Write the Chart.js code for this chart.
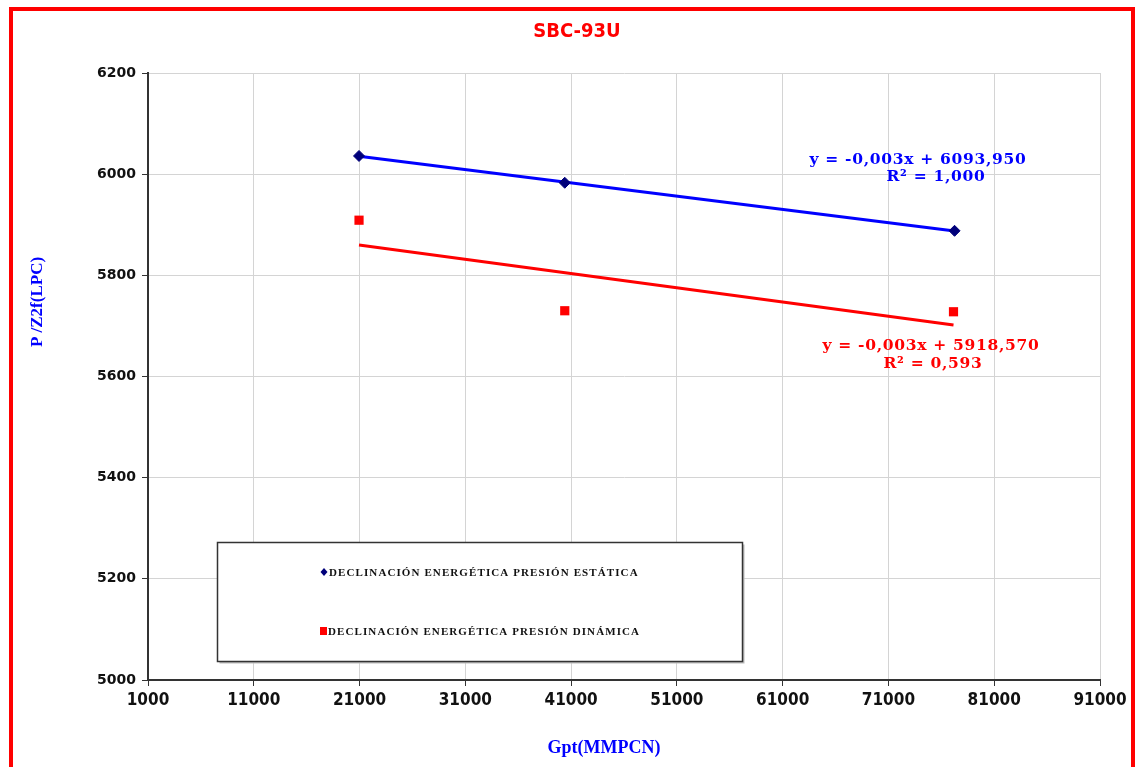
<!DOCTYPE html>
<html>
<head>
  <meta charset="UTF-8">
  <title>SBC-93U</title>
  <style>
    body { margin: 0; background: #fff; }
    #wrap { position: relative; width: 1137px; height: 767px; overflow: hidden; }
    #marco { position: absolute; left: 9px; top: 7px; width: 1118px; height: 800px; border: 4px solid #ff0000; }
    #grafico { position: absolute; left: 0; top: 0; }
  </style>
</head>
<body>
<div id="wrap">
  <div id="marco"></div>
  <canvas id="grafico" width="1137" height="767"></canvas>
</div>
<script src="https://cdn.jsdelivr.net/npm/chart.js"></script>
<script>
// Gp acumulado (MMPCN) y P/Z (LPC) por serie
const gpEstatica = [20950, 40400, 77250];
const pzEstatica = [6036, 5983, 5888];
const gpDinamica = [20950, 40400, 77150];
const pzDinamica = [5909, 5730, 5728];

const xTicks = [1000, 11000, 21000, 31000, 41000, 51000, 61000, 71000, 81000, 91000];
const yTicks = [5000, 5200, 5400, 5600, 5800, 6000, 6200];

const etiquetas = ['DECLINACIÓN ENERGÉTICA PRESIÓN ESTÁTICA', 'DECLINACIÓN ENERGÉTICA PRESIÓN DINÁMICA'];
const ecEstatica = ['y = -0,003x + 6093,950', 'R² = 1,000'];
const ecDinamica = ['y = -0,003x + 5918,570', 'R² = 0,593'];

const AZUL = '#0000ff', AZUL_OSC = '#00007a', ROJO = '#ff0000';
const NARROW = "'DejaVu Sans Condensed', 'DejaVu Sans', sans-serif";
const SERIF = "'Liberation Serif', serif";

function puntos(xs, ys) {
  return xs.map((x, i) => ({x: x, y: ys[i]}));
}

// recta de minimos cuadrados, dibujada entre el primer y el ultimo punto
function tendencia(xs, ys) {
  const n = xs.length;
  const mx = xs.reduce((a, b) => a + b, 0) / n;
  const my = ys.reduce((a, b) => a + b, 0) / n;
  let sxy = 0, sxx = 0;
  for (let i = 0; i < n; i++) {
    sxy += (xs[i] - mx) * (ys[i] - my);
    sxx += (xs[i] - mx) * (xs[i] - mx);
  }
  const m = sxy / sxx, b = my - m * mx;
  const x0 = xs[0], x1 = xs[n - 1];
  return [{x: x0, y: m * x0 + b}, {x: x1, y: m * x1 + b}];
}

const textos = {
  id: 'textos',
  afterDraw(chart) {
    const ctx = chart.ctx;
    ctx.save();
    // titulo
    ctx.fillStyle = ROJO;
    ctx.font = "bold 20px " + NARROW;
    ctx.textAlign = 'center';
    ctx.textBaseline = 'middle';
    ctx.fillText('SBC-93U', 577, 32);

    // titulos de ejes
    ctx.fillStyle = AZUL;
    ctx.font = "bold 18px " + SERIF;
    ctx.fillText('Gpt(MMPCN)', 604, 748);
    ctx.save();
    ctx.translate(38, 302);
    ctx.rotate(-Math.PI / 2);
    ctx.font = "bold 17px " + SERIF;
    ctx.fillText('P /Z2f(LPC)', 0, 0);
    ctx.restore();

    // ecuaciones de tendencia
    ctx.font = "bold 15.5px 'DejaVu Serif', serif";
    ctx.letterSpacing = '0.7px';
    ctx.fillStyle = AZUL;
    ctx.fillText(ecEstatica[0], 918, 160);
    ctx.fillText(ecEstatica[1], 936, 177);
    ctx.fillStyle = ROJO;
    ctx.fillText(ecDinamica[0], 931, 346);
    ctx.fillText(ecDinamica[1], 933, 364);
    ctx.letterSpacing = '0px';

    // leyenda
    const lx = 217.5, ly = 542.5, lw = 525, lh = 119;
    ctx.fillStyle = '#bbb';
    ctx.fillRect(lx + 2, ly + 2, lw, lh);
    ctx.fillStyle = '#fff';
    ctx.fillRect(lx, ly, lw, lh);
    ctx.strokeStyle = '#333';
    ctx.lineWidth = 1.5;
    ctx.strokeRect(lx, ly, lw, lh);

    ctx.fillStyle = AZUL_OSC;
    ctx.beginPath();
    ctx.moveTo(324, 568); ctx.lineTo(327.5, 572); ctx.lineTo(324, 576); ctx.lineTo(320.5, 572);
    ctx.closePath();
    ctx.fill();
    ctx.fillStyle = ROJO;
    ctx.fillRect(320, 627, 7, 8);

    ctx.fillStyle = '#111';
    ctx.font = "bold 11px " + SERIF;
    ctx.letterSpacing = '1.1px';
    ctx.textAlign = 'left';
    ctx.fillText(etiquetas[0], 329, 573);
    ctx.fillText(etiquetas[1], 328, 632);
    ctx.restore();
  }
};

const grafico = new Chart(document.getElementById('grafico'), {
  type: 'scatter',
  data: {
    datasets: [
      {
        label: etiquetas[0] + ' (tendencia)',
        data: tendencia(gpEstatica, pzEstatica),
        showLine: true,
        borderColor: AZUL,
        borderWidth: 3,
        pointRadius: 0,
        order: 3
      },
      {
        label: etiquetas[1] + ' (tendencia)',
        data: tendencia(gpDinamica, pzDinamica),
        showLine: true,
        borderColor: ROJO,
        borderWidth: 3,
        pointRadius: 0,
        order: 4
      },
      {
        label: etiquetas[0],
        data: puntos(gpEstatica, pzEstatica),
        pointStyle: 'rectRot',
        pointRadius: 5.5,
        backgroundColor: AZUL_OSC,
        borderColor: AZUL_OSC,
        borderWidth: 1,
        order: 1
      },
      {
        label: etiquetas[1],
        data: puntos(gpDinamica, pzDinamica),
        pointStyle: 'rect',
        pointRadius: 6.5,
        backgroundColor: ROJO,
        borderColor: ROJO,
        borderWidth: 0,
        order: 2
      }
    ]
  },
  options: {
    responsive: false,
    animation: false,
    layout: { padding: { top: 73, right: 37, left: 0, bottom: 0 } },
    plugins: {
      legend: { display: false },
      tooltip: { enabled: false }
    },
    scales: {
      x: {
        type: 'linear',
        min: 1000,
        max: 91000,
        afterBuildTicks: s => { s.ticks = xTicks.map(v => ({value: v})); },
        afterFit: s => { s.height = 87; s.paddingLeft = 0; s.paddingRight = 0; },
        grid: { color: '#d4d4d4', tickColor: '#333', tickLength: 6 },
        border: { color: '#333', width: 2 },
        ticks: {
          color: '#111',
          autoSkip: false,
          maxRotation: 0,
          padding: 4,
          font: { family: NARROW, weight: 'bold', size: 17 },
          callback: v => String(v)
        }
      },
      y: {
        min: 5000,
        max: 6200,
        afterBuildTicks: s => { s.ticks = yTicks.map(v => ({value: v})); },
        afterFit: s => { s.width = 148; s.paddingTop = 0; s.paddingBottom = 0; },
        grid: { color: '#d4d4d4', tickColor: '#333', tickLength: 6 },
        border: { color: '#333', width: 2 },
        ticks: {
          color: '#111',
          padding: 6,
          font: { family: "'DejaVu Sans', sans-serif", weight: 'bold', size: 14 },
          callback: v => String(v)
        }
      }
    }
  },
  plugins: [textos]
});
</script>
</body>
</html>
